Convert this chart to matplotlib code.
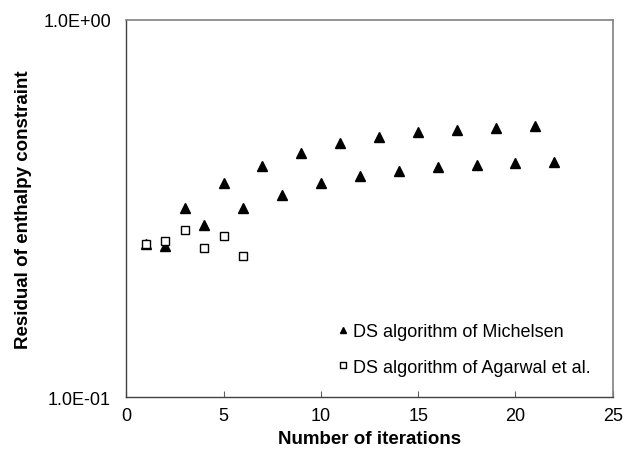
import numpy as np
import matplotlib
matplotlib.use('Agg')
import matplotlib.pyplot as plt
from matplotlib.ticker import FixedLocator, FuncFormatter, NullLocator

plt.rcParams['font.family'] = ['Liberation Sans', 'DejaVu Sans']

# residual of the enthalpy constraint per iteration
iter_michelsen = [1, 2, 3, 4, 5, 6, 7, 8, 9, 10, 11,
                  12, 13, 14, 15, 16, 17, 18, 19, 20, 21, 22]
res_michelsen = [0.255, 0.251, 0.318, 0.286, 0.369, 0.317, 0.410, 0.344,
                 0.444, 0.369, 0.472, 0.386, 0.489, 0.398, 0.503, 0.407,
                 0.511, 0.412, 0.517, 0.417, 0.522, 0.419]

iter_agarwal = [1, 2, 3, 4, 5, 6]
res_agarwal = [0.255, 0.260, 0.277, 0.248, 0.267, 0.237]

label_michelsen = 'DS algorithm of Michelsen'
label_agarwal = 'DS algorithm of Agarwal et al.'

fs = 13
fs_lab = 13.5

fig = plt.figure(figsize=(6.24, 4.52), dpi=100)
ax = fig.add_axes([126.3 / 624, 1 - 398.3 / 452, (612.7 - 126.3) / 624, (398.3 - 20.7) / 452])

ax.plot(iter_michelsen, res_michelsen, linestyle='none', marker='^',
        markersize=6.5, color='black', label=label_michelsen, zorder=3)
ax.plot(iter_agarwal, res_agarwal, linestyle='none', marker='s',
        markersize=5.5, markerfacecolor='white', markeredgecolor='black',
        markeredgewidth=1.0, label=label_agarwal, zorder=4)

ax.set_yscale('log')
ax.set_xlim(0, 25)
ax.set_ylim(0.1, 1.0)
ax.set_xticks([0, 5, 10, 15, 20, 25])
ax.yaxis.set_major_locator(FixedLocator([0.1, 1.0]))
ax.yaxis.set_minor_locator(NullLocator())
ax.yaxis.set_major_formatter(FuncFormatter(lambda v, pos: '%.1E' % v))

ax.tick_params(axis='x', direction='in', length=4, width=0.8, color='#606060',
               labelsize=fs, pad=7)
ax.tick_params(axis='y', length=0, labelsize=fs, pad=11)

for side in ['left', 'bottom']:
    ax.spines[side].set_color('#404040')
    ax.spines[side].set_linewidth(1.0)
for side in ['top', 'right']:
    ax.spines[side].set_color('#808080')
    ax.spines[side].set_linewidth(1.2)

ax.set_xlabel('Number of iterations', fontsize=fs_lab, fontweight='bold', labelpad=4)
ax.set_ylabel('Residual of enthalpy constraint', fontsize=fs_lab, fontweight='bold', labelpad=8)

leg = ax.legend(loc='upper left', bbox_to_anchor=((338 - 126.3) / 486.4, (398.3 - 324) / 377.6),
                frameon=False, fontsize=fs, handlelength=0.6, handletextpad=0.25,
                labelspacing=1.04, borderpad=0, borderaxespad=0, markerscale=0.75)

fig.savefig('out.png', dpi=100)
